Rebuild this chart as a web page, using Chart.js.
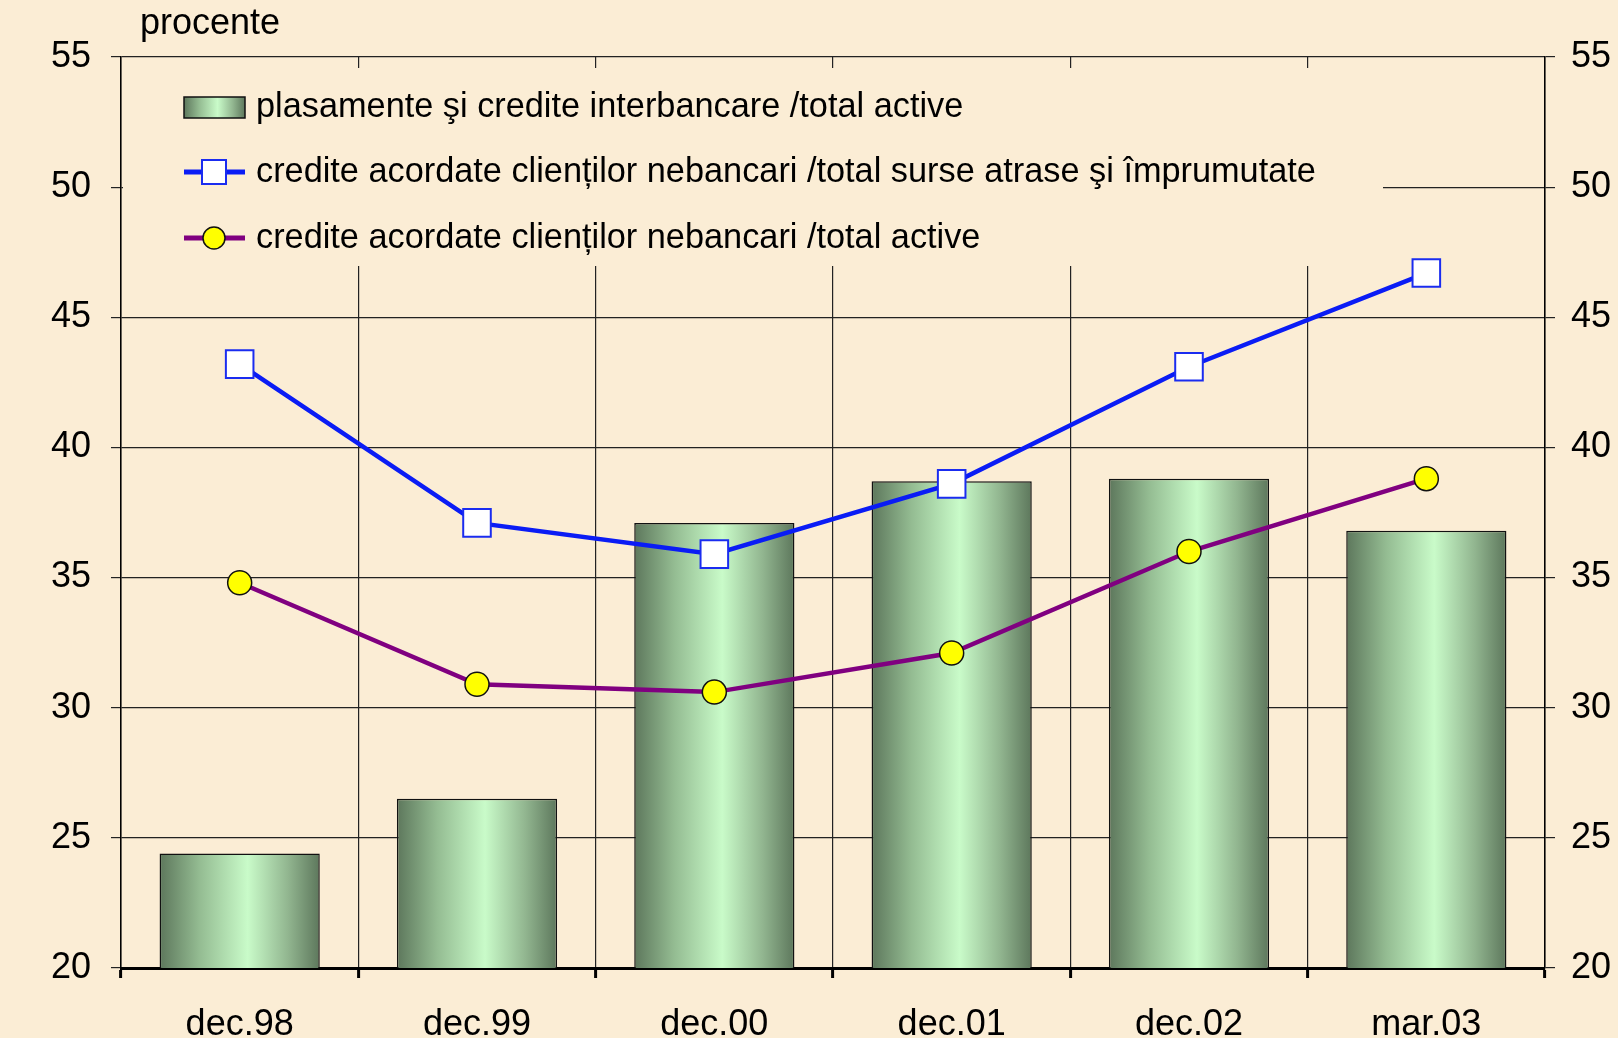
<!DOCTYPE html>
<html>
<head>
<meta charset="utf-8">
<script src="https://cdn.jsdelivr.net/npm/chart.js@4/dist/chart.umd.min.js"></script>
<style>
  html, body { margin: 0; padding: 0; background: #fbedd5; }
  #wrap { width: 1618px; height: 1038px; }
</style>
</head>
<body>
<div id="wrap"><canvas id="c" width="1618" height="1038"></canvas></div>
<script>
// chart data
const categories = ['dec.98', 'dec.99', 'dec.00', 'dec.01', 'dec.02', 'mar.03'];
const interbankToAssets = [24.4, 26.5, 37.1, 38.7, 38.8, 36.8];
const loansToSources = [43.2, 37.1, 35.9, 38.6, 43.1, 46.7];
const loansToAssets = [34.8, 30.9, 30.6, 32.1, 36.0, 38.8];
const seriesLabels = [
  'plasamente şi credite interbancare /total active',
  'credite acordate clienților nebancari /total surse atrase şi împrumutate',
  'credite acordate clienților nebancari /total active'
];
const unitLabel = 'procente';
const yMin = 20, yMax = 55, yStep = 5;

const BG = '#fbedd5';
const FONT = '"Liberation Sans", Arial, sans-serif';
const BAR_PCT = 0.675;

function greenGradient(ctx, x0, x1) {
  const g = ctx.createLinearGradient(x0, 0, x1, 0);
  g.addColorStop(0, '#5d775c');
  g.addColorStop(0.25, '#94bc92');
  g.addColorStop(0.55, '#c9fbc9');
  g.addColorStop(0.8, '#92b690');
  g.addColorStop(1, '#5d775c');
  return g;
}

function barFill(c) {
  const chart = c.chart;
  const x = chart.scales.x;
  if (!x || !chart.chartArea) return '#9fcf9f';
  const half = (x.width / categories.length) * BAR_PCT / 2;
  const cx = x.getPixelForValue(c.dataIndex);
  return greenGradient(chart.ctx, cx - half, cx + half);
}

const overlay = {
  id: 'overlay',
  beforeDatasetsDraw(chart) {
    const { ctx, chartArea: a } = chart;
    ctx.save();
    // legend box hides the grid behind it
    ctx.fillStyle = BG;
    ctx.fillRect(a.left + 2, a.top + 11, 1383 - a.left - 2, 266 - a.top - 11);

    const sx0 = 184, sx1 = 245, mx = 214, tx = 256;
    const rows = [107, 172, 238];

    // bar swatch
    ctx.fillStyle = greenGradient(ctx, sx0, sx1);
    ctx.fillRect(sx0, rows[0] - 10, sx1 - sx0, 21);
    ctx.strokeStyle = '#111';
    ctx.lineWidth = 1.5;
    ctx.strokeRect(sx0, rows[0] - 10, sx1 - sx0, 21);

    // blue line swatch
    ctx.strokeStyle = '#0a1cf5';
    ctx.lineWidth = 5;
    ctx.beginPath(); ctx.moveTo(sx0, rows[1]); ctx.lineTo(sx1, rows[1]); ctx.stroke();
    ctx.fillStyle = '#ffffff';
    ctx.fillRect(mx - 12, rows[1] - 12, 24, 24);
    ctx.lineWidth = 2;
    ctx.strokeStyle = '#1a2cf0';
    ctx.strokeRect(mx - 12, rows[1] - 12, 24, 24);

    // purple line swatch
    ctx.strokeStyle = '#800080';
    ctx.lineWidth = 5;
    ctx.beginPath(); ctx.moveTo(sx0, rows[2]); ctx.lineTo(sx1, rows[2]); ctx.stroke();
    ctx.fillStyle = '#ffff00';
    ctx.beginPath(); ctx.arc(mx, rows[2], 11, 0, Math.PI * 2); ctx.fill();
    ctx.lineWidth = 1.5;
    ctx.strokeStyle = '#111';
    ctx.stroke();

    ctx.fillStyle = '#000';
    ctx.font = '34.3px ' + FONT;
    ctx.textBaseline = 'middle';
    ctx.textAlign = 'left';
    seriesLabels.forEach((t, i) => ctx.fillText(t, tx, rows[i] + 1));
    ctx.restore();
  },
  afterDraw(chart) {
    const ctx = chart.ctx;
    ctx.save();
    ctx.fillStyle = '#000';
    ctx.font = '36px ' + FONT;
    ctx.textBaseline = 'middle';
    ctx.textAlign = 'left';
    ctx.fillText(unitLabel, 140, 24);
    ctx.restore();
  }
};

const tickFont = { family: FONT, size: 36 };

new Chart(document.getElementById('c'), {
  type: 'bar',
  data: {
    labels: categories,
    datasets: [
      {
        type: 'line',
        label: seriesLabels[1],
        data: loansToSources,
        order: 1,
        borderColor: '#0a1cf5',
        borderWidth: 4.5,
        pointStyle: 'rect',
        pointRadius: 19.5,
        pointBackgroundColor: '#ffffff',
        pointBorderColor: '#1a2cf0',
        pointBorderWidth: 2,
        tension: 0
      },
      {
        type: 'line',
        label: seriesLabels[2],
        data: loansToAssets,
        order: 2,
        borderColor: '#800080',
        borderWidth: 4.5,
        pointStyle: 'circle',
        pointRadius: 12,
        pointBackgroundColor: '#ffff00',
        pointBorderColor: '#111',
        pointBorderWidth: 1.5,
        tension: 0
      },
      {
        label: seriesLabels[0],
        data: interbankToAssets,
        order: 3,
        backgroundColor: barFill,
        borderColor: '#111',
        borderWidth: 1.5,
        borderSkipped: 'bottom',
        barPercentage: BAR_PCT,
        categoryPercentage: 1
      }
    ]
  },
  options: {
    responsive: false,
    animation: false,
    layout: { padding: { top: 57, left: 0, right: 0, bottom: 0 } },
    plugins: { legend: { display: false }, tooltip: { enabled: false } },
    scales: {
      x: {
        offset: true,
        grid: { offset: true, color: '#222', lineWidth: 1.2, tickLength: 10, tickColor: '#000', tickWidth: 3 },
        border: { display: true, color: '#000', width: 3 },
        ticks: { color: '#000', font: tickFont, padding: 25, maxRotation: 0 },
        afterFit(s) { s.height = 70; }
      },
      y: {
        position: 'left',
        min: yMin, max: yMax,
        grid: { color: '#222', lineWidth: 1.2, tickLength: 10, tickColor: '#222' },
        border: { display: true, color: '#000', width: 1.5 },
        ticks: { stepSize: yStep, color: '#000', font: tickFont, padding: 20 },
        afterFit(s) { s.width = 121; }
      },
      y2: {
        position: 'right',
        min: yMin, max: yMax,
        grid: { drawOnChartArea: false, color: '#222', lineWidth: 1.2, tickLength: 10 },
        border: { display: true, color: '#000', width: 1.5 },
        ticks: { stepSize: yStep, color: '#000', font: tickFont, padding: 16 },
        afterFit(s) { s.width = 73; }
      }
    }
  },
  plugins: [overlay]
});
</script>
</body>
</html>
